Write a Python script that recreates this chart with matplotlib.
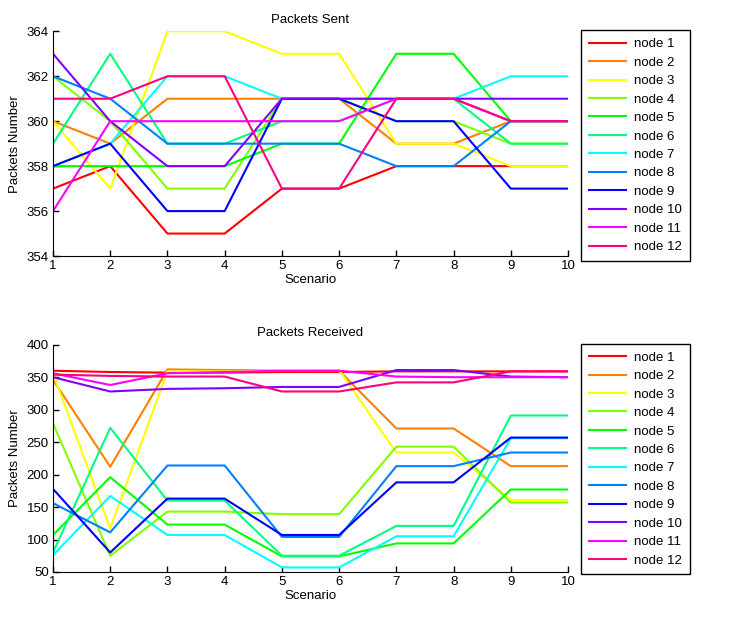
import colorsys
import matplotlib
matplotlib.use('Agg')
import matplotlib.pyplot as plt

scenarios = [1, 2, 3, 4, 5, 6, 7, 8, 9, 10]
nodes = ['node %d' % i for i in range(1, 13)]

# packets sent per node, one list per node
sent = [
    [357, 358, 355, 355, 357, 357, 358, 358, 358, 358],
    [360, 359, 361, 361, 361, 361, 359, 359, 360, 360],
    [360, 357, 364, 364, 363, 363, 359, 359, 358, 358],
    [362, 360, 357, 357, 361, 361, 360, 360, 359, 359],
    [358, 358, 358, 358, 359, 359, 363, 363, 360, 360],
    [359, 363, 359, 359, 360, 360, 361, 361, 359, 359],
    [358, 359, 362, 362, 361, 361, 361, 361, 362, 362],
    [362, 361, 359, 359, 359, 359, 358, 358, 360, 360],
    [358, 359, 356, 356, 361, 361, 360, 360, 357, 357],
    [363, 360, 358, 358, 361, 361, 361, 361, 361, 361],
    [356, 360, 360, 360, 360, 360, 361, 361, 360, 360],
    [361, 361, 362, 362, 357, 357, 361, 361, 360, 360],
]

# packets received per node
received = [
    [360, 358, 357, 357, 358, 358, 359, 359, 359, 359],
    [346, 212, 362, 361, 361, 360, 271, 271, 213, 213],
    [356, 117, 359, 359, 361, 361, 234, 234, 161, 161],
    [279, 75, 143, 143, 139, 139, 243, 243, 157, 157],
    [107, 196, 123, 123, 74, 74, 94, 94, 177, 177],
    [80, 272, 160, 160, 75, 75, 121, 121, 291, 291],
    [76, 167, 107, 107, 57, 57, 105, 105, 256, 256],
    [156, 111, 214, 214, 104, 104, 213, 213, 234, 234],
    [178, 80, 163, 163, 107, 107, 188, 188, 257, 257],
    [350, 328, 332, 333, 335, 335, 361, 361, 351, 350],
    [356, 338, 356, 358, 360, 360, 351, 350, 350, 350],
    [354, 352, 351, 351, 328, 328, 342, 342, 359, 359],
]

colors = [colorsys.hsv_to_rgb(i / 12.0, 1, 1) for i in range(12)]

plt.rcParams['font.family'] = ['Liberation Sans', 'DejaVu Sans']
plt.rcParams['font.size'] = 9.5

fig = plt.figure(figsize=(7.39, 6.26), dpi=100)
ax1 = fig.add_axes([0.0717, 0.591, 0.697, 0.359])
ax2 = fig.add_axes([0.0717, 0.0863, 0.697, 0.363])


def draw(ax, data, title, ylim, yticks):
    for i in range(12):
        ax.plot(scenarios, data[i], color=colors[i], linewidth=1.5, label=nodes[i])
    ax.set_xlim(1, 10)
    ax.set_ylim(ylim)
    ax.set_xticks(scenarios)
    ax.set_yticks(yticks)
    ax.set_title(title, fontsize=9.5, pad=6)
    ax.set_xlabel('Scenario', labelpad=1)
    ax.set_ylabel('Packets Number')
    ax.spines['top'].set_visible(False)
    ax.spines['right'].set_visible(False)
    ax.tick_params(direction='in', length=4, width=1, pad=3, labelsize=9.5)
    leg = ax.legend(loc='upper left', bbox_to_anchor=(1.025, 1.005), borderaxespad=0,
                    fancybox=False, framealpha=1, edgecolor='black', fontsize=9.5,
                    handlelength=2.8, labelspacing=0.47, borderpad=0.6, handletextpad=0.65)
    leg.get_frame().set_linewidth(1)


draw(ax1, sent, 'Packets Sent', (354, 364), range(354, 365, 2))
draw(ax2, received, 'Packets Received', (50, 400), range(50, 401, 50))

plt.savefig('out.png', dpi=100)
